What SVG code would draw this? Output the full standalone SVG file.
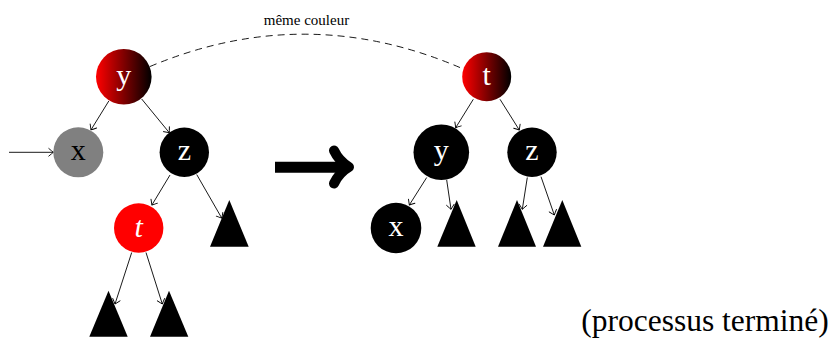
<svg xmlns="http://www.w3.org/2000/svg" width="835" height="343" viewBox="0 0 835 343">
<defs>
<linearGradient id="rb" x1="0" y1="0" x2="1" y2="0">
<stop offset="0" stop-color="#ff0000"/>
<stop offset="1" stop-color="#000000"/>
</linearGradient>
<marker id="ah" markerWidth="12" markerHeight="12" viewBox="-6 -6 12 12" refX="0" refY="0" orient="auto" markerUnits="userSpaceOnUse">
<path d="M -4.5,-3.8 Q -1.2,-1 0,0 Q -1.2,1 -4.5,3.8" fill="none" stroke="#000" stroke-width="0.9" stroke-linecap="round"/>
</marker>
<style>
.serif{font-family:"Liberation Serif","Times New Roman",serif}
.lbl{font-family:"Liberation Serif","Times New Roman",serif;font-size:30px;text-anchor:middle;fill:#fff}
.e{stroke:#000;stroke-width:0.9;fill:none;marker-end:url(#ah)}
.tri{fill:#000}
</style>
</defs>
<g id="connectors">
<path d="M150,66.5 Q306,1 461.7,68.3" fill="none" stroke="#000" stroke-width="0.9" stroke-dasharray="7,5"/>
<line class="e" x1="9" y1="152.3" x2="53.3" y2="152.3"/>
<line class="e" x1="108.8" y1="101" x2="91" y2="129.8"/>
<line class="e" x1="141.7" y1="99" x2="169.3" y2="132.7"/>
<line class="e" x1="170" y1="175" x2="151.9" y2="205"/>
<line class="e" x1="196.7" y1="174.5" x2="221.8" y2="218.2"/>
<line class="e" x1="131.7" y1="252.5" x2="115" y2="304"/>
<line class="e" x1="146" y1="252.5" x2="162.3" y2="304"/>
<line class="e" x1="473.3" y1="99.3" x2="455.7" y2="127.7"/>
<line class="e" x1="500" y1="99.3" x2="519.3" y2="130"/>
<line class="e" x1="426.7" y1="177.5" x2="409.3" y2="205"/>
<line class="e" x1="446.7" y1="180" x2="451" y2="209.3"/>
<line class="e" x1="527.3" y1="177.5" x2="522.3" y2="209.3"/>
<line class="e" x1="541" y1="176.7" x2="554.3" y2="215"/>
</g>
<g id="bigarrow">
<line x1="275" y1="167.2" x2="346" y2="167.2" stroke="#000" stroke-width="11"/>
<path d="M334,150.5 C338,159 343,163.5 349,167 C343,170.5 338,175 334,183.5" fill="none" stroke="#000" stroke-width="10" stroke-linecap="round" stroke-linejoin="round"/>
</g>
<text class="serif" x="306.5" y="25" font-size="15" text-anchor="middle" fill="#000">même couleur</text>
<g id="L_y"><circle cx="123.8" cy="76.8" r="27.8" fill="url(#rb)"/><text class="lbl" x="123.8" y="84.5">y</text></g>
<g id="L_x"><circle cx="78.3" cy="152.3" r="25" fill="#808080"/><text class="lbl" x="78.3" y="160" style="fill:#000">x</text></g>
<g id="L_z"><circle cx="184.3" cy="152.3" r="24.7" fill="#000"/><text class="lbl" x="184.3" y="160">z</text></g>
<g id="L_t"><circle cx="138.7" cy="228" r="24.7" fill="#ff0000"/><text class="lbl" x="138.7" y="236.5" font-style="italic">t</text></g>
<g id="L_tri1"><polygon class="tri" points="229.3,200 210,246.7 248.7,246.7"/></g>
<g id="L_tri2"><polygon class="tri" points="108.5,290.7 89.3,336.7 127.7,336.7"/></g>
<g id="L_tri3"><polygon class="tri" points="169,290.7 150,336.7 188.3,336.7"/></g>
<g id="R_t"><circle cx="486.7" cy="76.7" r="24.5" fill="url(#rb)"/><text class="lbl" x="486.7" y="85">t</text></g>
<g id="R_y"><circle cx="441.3" cy="152.3" r="27.8" fill="#000"/><text class="lbl" x="441.3" y="160">y</text></g>
<g id="R_z"><circle cx="532" cy="152.3" r="24.7" fill="#000"/><text class="lbl" x="532" y="160">z</text></g>
<g id="R_x"><circle cx="396" cy="228" r="25.3" fill="#000"/><text class="lbl" x="396" y="236">x</text></g>
<g id="R_tri1"><polygon class="tri" points="456.7,200 437.3,246.7 475.7,246.7"/></g>
<g id="R_tri2"><polygon class="tri" points="517,200 498,246.7 536,246.7"/></g>
<g id="R_tri3"><polygon class="tri" points="562.3,200 543,246.7 581.3,246.7"/></g>
<text class="serif" x="705" y="331" font-size="31.5" text-anchor="middle" fill="#000">(processus terminé)</text>
</svg>
